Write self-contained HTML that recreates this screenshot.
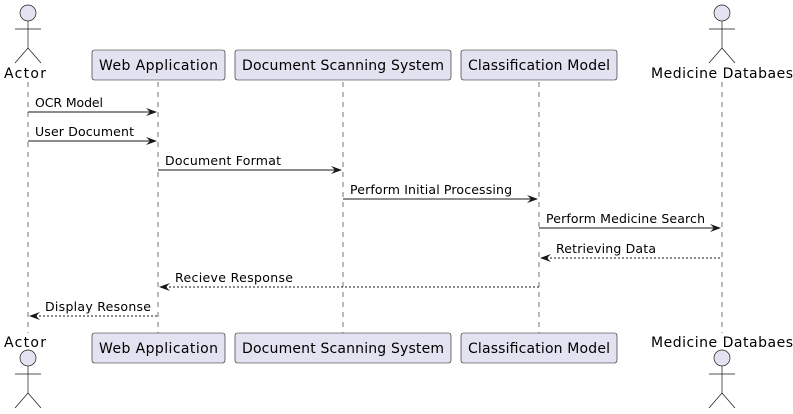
<!DOCTYPE html>
<html><head><meta charset="utf-8"><style>html,body{margin:0;padding:0;background:#fff}svg{display:block}</style></head>
<body>
<svg width="793" height="414" viewBox="0 0 793 414" xmlns="http://www.w3.org/2000/svg" font-family="DejaVu Sans, Liberation Sans, sans-serif">
<defs>
<g id="act" fill="none" stroke="#181818" stroke-width="0.7">
<circle cx="0" cy="0" r="8" fill="#E2E2F0"/>
<line x1="0" y1="8" x2="0" y2="35"/>
<line x1="-13" y1="16" x2="13" y2="16"/>
<line x1="0" y1="35" x2="-13" y2="50"/>
<line x1="0" y1="35" x2="13" y2="50"/>
</g>
</defs>
<g stroke="#181818" stroke-width="0.6" stroke-dasharray="5,5">
<line x1="28" y1="82" x2="28" y2="333"/>
<line x1="158" y1="82" x2="158" y2="333"/>
<line x1="343" y1="82" x2="343" y2="333"/>
<line x1="539" y1="82" x2="539" y2="333"/>
<line x1="722" y1="82" x2="722" y2="333"/>
</g>
<use href="#act" x="28" y="13"/>
<use href="#act" x="722" y="13"/>
<use href="#act" x="28" y="358"/>
<use href="#act" x="722" y="358"/>
<g font-size="14" fill="#000">
<text x="4" y="78" textLength="42">Actor</text>
<text x="651" y="78" textLength="142">Medicine Databaes</text>
<text x="4" y="347" textLength="42">Actor</text>
<text x="651" y="347" textLength="142">Medicine Databaes</text>
</g>
<g fill="#E2E2F0" stroke="#181818" stroke-width="0.6">
<rect x="92" y="50" width="133" height="30" rx="2.5"/>
<rect x="235" y="50" width="216" height="30" rx="2.5"/>
<rect x="461" y="50" width="156" height="30" rx="2.5"/>
<rect x="92" y="333" width="133" height="30" rx="2.5"/>
<rect x="235" y="333" width="216" height="30" rx="2.5"/>
<rect x="461" y="333" width="156" height="30" rx="2.5"/>
</g>
<g font-size="14" fill="#000">
<text x="99" y="70" textLength="119">Web Application</text>
<text x="242" y="70" textLength="202">Document Scanning System</text>
<text x="468" y="70" textLength="142">Classification Model</text>
<text x="99" y="353" textLength="119">Web Application</text>
<text x="242" y="353" textLength="202">Document Scanning System</text>
<text x="468" y="353" textLength="142">Classification Model</text>
</g>
<g stroke="#181818" stroke-width="1">
<line x1="28" y1="112" x2="156" y2="112"/>
<line x1="28" y1="141" x2="156" y2="141"/>
<line x1="158" y1="170" x2="341" y2="170"/>
<line x1="343" y1="199" x2="537" y2="199"/>
<line x1="539" y1="228" x2="720" y2="228"/>
<g stroke-dasharray="2,2">
<line x1="542" y1="258" x2="722" y2="258"/>
<line x1="161" y1="287" x2="539" y2="287"/>
<line x1="31" y1="316" x2="158" y2="316"/>
</g>
</g>
<g fill="#181818">
<polygon points="146,108 157,112 146,116 150,112"/>
<polygon points="146,137 157,141 146,145 150,141"/>
<polygon points="331,166 342,170 331,174 335,170"/>
<polygon points="527,195 538,199 527,203 531,199"/>
<polygon points="710,224 721,228 710,232 714,228"/>
<polygon points="551,254 540,258 551,262 547,258"/>
<polygon points="170,283 159,287 170,291 166,287"/>
<polygon points="40,312 29,316 40,320 36,316"/>
</g>
<g font-size="12.5" fill="#000">
<text x="35" y="107" textLength="68">OCR Model</text>
<text x="35" y="136" textLength="99">User Document</text>
<text x="165" y="165" textLength="116">Document Format</text>
<text x="350" y="194" textLength="162">Perform Initial Processing</text>
<text x="546" y="223" textLength="159">Perform Medicine Search</text>
<text x="556" y="253" textLength="100">Retrieving Data</text>
<text x="175" y="282" textLength="118">Recieve Response</text>
<text x="45" y="311" textLength="106">Display Resonse</text>
</g>
</svg>
</body></html>
